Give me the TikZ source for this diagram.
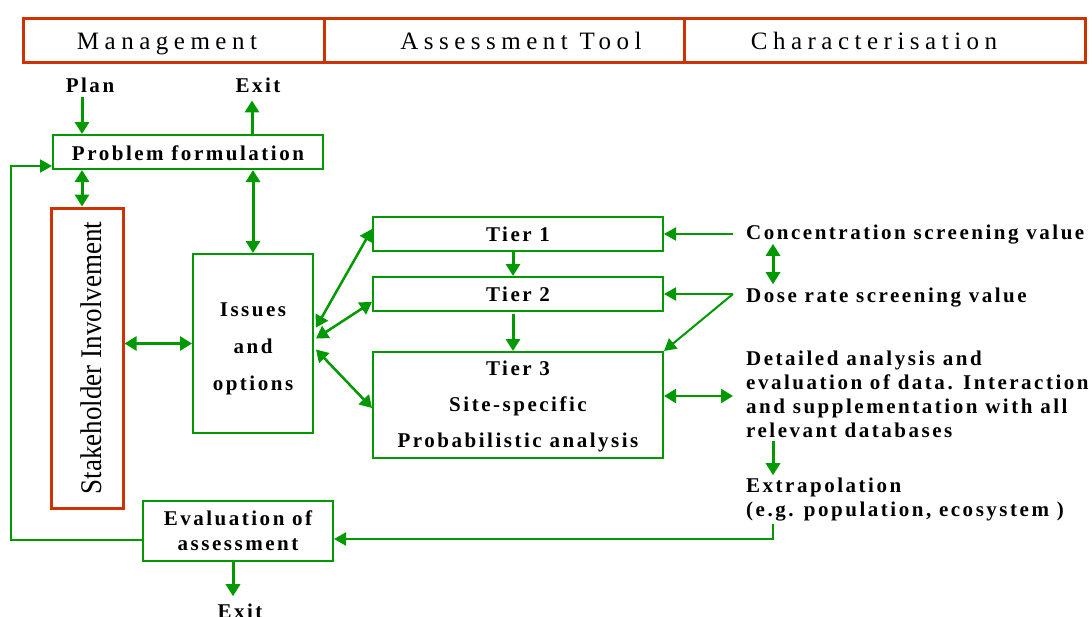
\documentclass[tikz,border=0pt]{standalone}
\usepackage{fontspec}
\usepackage{graphicx}
\setmainfont{Liberation Serif}
\newfontfamily\hfont[LetterSpace=22]{Liberation Serif}
\newfontfamily\bfont[LetterSpace=12]{Liberation Serif}
\newfontfamily\sfontx[FakeStretch=0.9]{Liberation Serif}
\usetikzlibrary{arrows.meta,calc}
\definecolor{gr}{RGB}{0,153,0}
\definecolor{rd}{RGB}{204,51,0}
\newcommand{\btxt}{\bfont\bfseries\fontsize{21}{24}\selectfont}
\newcommand{\htxt}{\hfont\fontsize{25}{30}\selectfont}
\newcommand{\stxt}{\sfontx\fontsize{30}{30}\selectfont}
\begin{document}
\begin{tikzpicture}[x=1pt,y=-1pt,
  gbox/.style={draw=gr,line width=2pt,rectangle,inner sep=0pt,font=\btxt},
  rbox/.style={draw=rd,line width=3pt,rectangle,inner sep=0pt},
  lbl/.style={inner sep=0pt,font=\btxt,anchor=base west},
  clbl/.style={inner sep=0pt,font=\btxt,anchor=base},
  hlbl/.style={inner sep=0pt,font=\htxt,anchor=base},
  arr/.style={draw=gr,line width=3pt,-{Triangle[length=12pt,width=14pt]}},
  dbl/.style={draw=gr,line width=3pt,{Triangle[length=12pt,width=14pt]}-{Triangle[length=12pt,width=14pt]}},
  tarr/.style={draw=gr,line width=2pt,-{Triangle[length=12pt,width=13pt]}},
]
\useasboundingbox (0,0) rectangle (1092,616);
\fill[white] (0,0) rectangle (1092,616);

% header
\node[rbox,anchor=north west,minimum width=301pt,minimum height=44pt] (h1) at (22,17) {};
\node[rbox,anchor=north west,minimum width=360pt,minimum height=44pt] (h2) at (323,17) {};
\node[rbox,anchor=north west,minimum width=401pt,minimum height=44pt] (h3) at (683,17) {};
\node[hlbl] (hm) at (167,49.5) {Management};
\node[hlbl] (ha) at (521,49.5) {Assessment Tool};
\node[hlbl] (hc) at (874,49.5) {Characterisation};

% boxes
\node[gbox,minimum width=270pt,minimum height=34pt] (pf) at (188,152) {\rule{0pt}{17pt}Problem formulation};
\node[rbox,minimum width=72pt,minimum height=300pt,font=\stxt] (st) at (87,358) {\hspace{8pt}\rotatebox{90}{Stakeholder Involvement}};
\node[gbox,minimum width=120pt,minimum height=179pt,align=center,font={\bfont\bfseries\fontsize{21}{37}\selectfont}] (is) at (253,343.5) {\rule{0pt}{24pt}Issues\\and\\options};
\node[gbox,minimum width=290pt,minimum height=34pt] (t1) at (518,234) {Tier 1};
\node[gbox,minimum width=290pt,minimum height=34pt] (t2) at (518,294) {Tier 2};
\node[gbox,minimum width=290pt,minimum height=106pt,align=center,font={\bfont\bfseries\fontsize{21}{36}\selectfont}] (t3) at (518,405) {\rule{0pt}{18pt}Tier 3\\Site-specific\\Probabilistic analysis};
\node[gbox,minimum width=190pt,minimum height=60pt,align=center,font={\bfont\bfseries\fontsize{21}{25}\selectfont}] (ev) at (238,531) {Evaluation of\\assessment};

% labels
\node[clbl] (plan) at (90,92) {Plan};
\node[clbl] (exT) at (258,92) {Exit};
\node[clbl] (exB) at (240,618) {Exit};
\node[lbl] (conc) at (746,239) {Concentration screening value};
\node[lbl] (dose) at (746,302) {Dose rate screening value};
\node[lbl,align=left] (det) at (746,437) {Detailed analysis and\\evaluation of data. Interaction\\and supplementation with all\\relevant databases};
\node[lbl,align=left] (ext) at (746,516) {Extrapolation\\(e.g. population, ecosystem )};

% connectors
\draw[arr] ($(pf.north west |- plan.south)+(30,5)$) -- ($(pf.north west)+(30,0)$);
\draw[arr] ($(pf.north west)+(200,0)$) -- ($(pf.north west |- exT.south)+(200,8)$);
\draw[dbl] ($(pf.south west)+(30,0)$) -- ($(pf.south west |- st.north)+(30,0)$);
\draw[dbl] (pf.south -| is.north) -- (is.north);
\draw[dbl,line width=2.5pt] (is.west -| st.east) -- (is.west);
\draw[dbl,line width=2.5pt] ($(is.east)+(2,-16)$) -- ($(t1.west)+(0,-5)$);
\draw[dbl,line width=2.5pt] ($(is.east)+(2,-5)$) -- ($(t2.west)+(0,8)$);
\draw[dbl,line width=2.5pt] ($(is.east)+(2,6)$) -- ($(t3.west)+(0,3)$);
\draw[arr] ($(t1.south)+(-5,0)$) -- ($(t2.north)+(-5,0)$);
\draw[arr] ($(t2.south)+(-5,2)$) -- ($(t3.north)+(-5,0)$);
\draw[tarr] ($(t1.east -| conc.west)+(-13,0)$) -- (t1.east);
\draw[dbl] ($(conc.south west)+(27,0)$) -- ($(dose.north west)+(27,-3)$);
\coordinate (dsp) at ($(t2.east -| dose.west)+(-13,0)$);
\draw[tarr] (dsp) -- (t2.east);
\draw[tarr] (dsp) -- (t3.north east);
\draw[dbl,line width=2.5pt] ($(t3.east)+(0,-9)$) -- ($(t3.east -| det.west)+(-13,-9)$);
\draw[arr] ($(det.south west)+(27,4)$) -- ($(ext.north west)+(27,-2)$);
\draw[tarr] ($(ext.south west)+(27,3)$) |- ($(ev.east)+(0,8)$);
\draw[tarr] ($(ev.west)+(0,9)$) -- ++(-131,0) |- ($(pf.south west)+(0,-4)$);
\draw[arr] ($(ev.south)+(-5,0)$) -- ($(ev.south |- exB.north)+(-5,-7)$);
\end{tikzpicture}
\end{document}
